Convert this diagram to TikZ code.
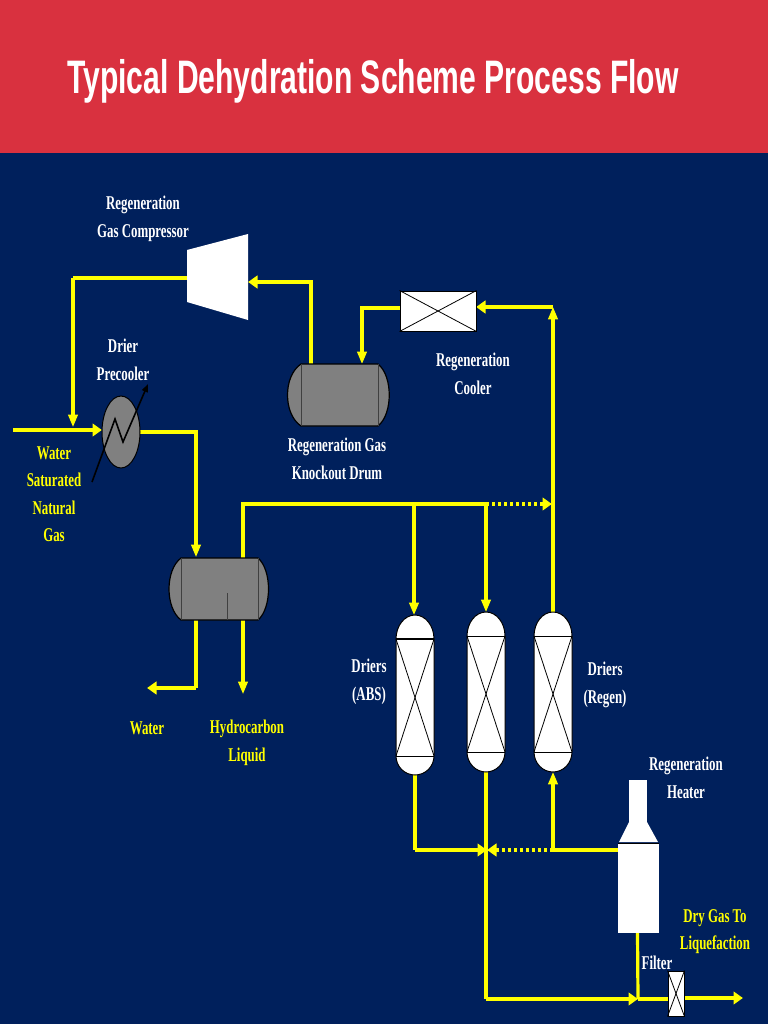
\documentclass[tikz,border=0pt]{standalone}
\usepackage{fontspec}
\usetikzlibrary{arrows.meta,calc,shapes.geometric}
\newfontfamily\labfont[FakeStretch=0.66]{Liberation Serif}
\newfontfamily\titlefont[FakeStretch=0.64]{Liberation Sans}
\definecolor{navy}{HTML}{00205C}
\definecolor{band}{HTML}{D9313F}
\definecolor{pipeyellow}{HTML}{FFFF00}
\definecolor{vessel}{HTML}{808080}
\tikzset{
  pipeline/.style={draw=pipeyellow,line width=3.2pt,line join=miter},
  thickpipe/.style={draw=pipeyellow,line width=3.7pt,line join=miter},
  dotpipe/.style={draw=pipeyellow,line width=3.2pt,dash pattern=on 3pt off 3pt},
  flow/.style={-{Triangle[length=9.5pt,width=9.5pt]}},
  whitelabel/.style={text=white,align=center,inner sep=0pt,font=\labfont\bfseries\fontsize{19.5}{27.5}\selectfont},
  yellowlabel/.style={whitelabel,text=pipeyellow},
  outline/.style={draw=black,line width=1pt},
  grayvessel/.style={outline,fill=vessel,line width=1.2pt},
  whitevessel/.style={outline,fill=white},
  innerline/.style={draw=black!75,line width=1pt},
  crossline/.style={draw=black,line width=0.8pt}
}
\begin{document}
\begin{tikzpicture}[x=1pt,y=-1pt]
\useasboundingbox (0,0) rectangle (768,1024);
\fill[navy] (0,0) rectangle (768,1024);
\fill[band] (0,0) rectangle (768,153);
\node[name=title,text=white,inner sep=0pt,font=\titlefont\bfseries\fontsize{47}{50}\selectfont] at (373,81) {Typical Dehydration Scheme Process Flow};

% connectors: the source is stretched vertically, so they are drawn on a stretched canvas
\begin{scope}[transform canvas={yscale=1.3},y={(0pt,-0.76923pt)}]
\coordinate (compOut) at (187,278);
\coordinate (compIn) at (248,282);
\coordinate (feedStart) at (13,430);
\coordinate (pcIn) at (102,430);
\coordinate (pcOut) at (140,432);
\coordinate (c1) at (73,278);
\coordinate (c1end) at (73,427);
\coordinate (c2) at (196,432);
\coordinate (sepIn) at (196,557);
\coordinate (drumOut) at (311,364);
\coordinate (c3) at (311,282);
\coordinate (coolIn) at (476,307);
\coordinate (coolOut) at (400,308);
\coordinate (c4) at (362,308);
\coordinate (drumIn) at (362,364);
\coordinate (regenTop) at (553,612);
\coordinate (regenUp) at (553,307);
\coordinate (sepTop) at (243,558);
\coordinate (c5) at (243,504);
\coordinate (j1) at (414,504);
\coordinate (j2) at (486,504);
\coordinate (dot1) at (552,504);
\coordinate (d1In) at (414,615);
\coordinate (d2In) at (486,612);
\coordinate (sepBotL) at (196,620);
\coordinate (c6) at (196,688);
\coordinate (waterOut) at (147,688);
\coordinate (sepBotR) at (243,620);
\coordinate (hcOut) at (243,694);
\coordinate (d1Out) at (415,774);
\coordinate (c7) at (415,850);
\coordinate (j3) at (487,850);
\coordinate (d2Out) at (486,772);
\coordinate (c8) at (486,999);
\coordinate (j4) at (638,999);
\coordinate (filtIn) at (668,999);
\coordinate (filtOut) at (684,998);
\coordinate (dryOut) at (743,998);
\coordinate (heatOutB) at (637.5,933);
\coordinate (heatL) at (618,850);
\coordinate (c9) at (553,850);
\coordinate (d3In) at (553,772);

\draw[pipeline] (compOut) -- (c1);
\draw[pipeline,flow] (c1) -- (c1end);
\draw[thickpipe,flow] (feedStart) -- (pcIn);
\draw[pipeline,flow] (pcOut) -- (c2) -- (sepIn);
\draw[pipeline,flow] (drumOut) -- (c3) -- (compIn);
\draw[pipeline,flow] (regenTop) -- (regenUp);
\draw[pipeline,flow] (regenUp) -- (coolIn);
\draw[pipeline,flow] (coolOut) -- (c4) -- (drumIn);
\draw[pipeline] (sepTop) -- (c5) -- (j2);
\draw[pipeline,flow] (j1) -- (d1In);
\draw[pipeline,flow] (j2) -- (d2In);
\draw[dotpipe] (j2) -- ($(dot1)+(-9,0)$);
\draw[pipeline,flow] ($(dot1)+(-9,0)$) -- (dot1);
\draw[pipeline] (sepBotL) -- (c6);
\draw[thickpipe,flow] (c6) -- (waterOut);
\draw[pipeline,flow] (sepBotR) -- (hcOut);
\draw[pipeline] (d1Out) -- (c7);
\draw[thickpipe,flow] (c7) -- (j3);
\draw[pipeline] (d2Out) -- (c8);
\draw[pipeline,flow] (c8) -- (j4);
\draw[pipeline] (heatOutB) -- (j4);
\draw[thickpipe] (j4) -- (filtIn);
\draw[thickpipe,flow] (filtOut) -- (dryOut);
\draw[pipeline] (heatL) -- (c9);
\draw[pipeline,flow] (c9) -- (d3In);
\draw[dotpipe] (c9) -- ($(j3)+(9,0)$);
\draw[pipeline,flow] ($(j3)+(9,0)$) -- (j3);
\end{scope}

% compressor
\fill[white] (187,250) -- (248,234) -- (248,320) -- (187,302) -- cycle;
% precooler
\node[name=precooler,ellipse,draw=black,fill=vessel,line width=1pt,minimum width=38pt,minimum height=72pt,inner sep=0pt] at (121,432) {};
\coordinate (z0) at (92,482);
\coordinate (z1) at (115,419);
\coordinate (z2) at (123,442);
\coordinate (z3) at (148,384);
\draw[black,line width=1.6pt,-{Triangle[length=8pt,width=6pt]}] (z0) -- (z1) -- (z2) -- (z3);

% horizontal drums: body left, body right, top, bottom, left bulge, right bulge
\newcommand{\hdrum}[6]{%
  \draw[grayvessel] (#1,#3) -- (#2,#3) .. controls ($(#2,#3)+(#6,12)$) and ($(#2,#4)+(#6,-12)$) .. (#2,#4) -- (#1,#4) .. controls ($(#1,#4)+(-#5,-12)$) and ($(#1,#3)+(-#5,12)$) .. (#1,#3) -- cycle;
  \draw[innerline] (#1,#3) -- (#1,#4);
  \draw[innerline] (#2,#3) -- (#2,#4);
}
\hdrum{301}{378}{364}{426}{18}{15}
\hdrum{181}{258}{558}{620}{16}{14}
\draw[innerline,line width=0.8pt] (227,593) -- (227,620);

% cooler
\node[name=cooler,draw=black,fill=white,line width=1pt,minimum width=76pt,minimum height=40pt,inner sep=0pt] at (438,311) {};
\draw[crossline] (cooler.north west) -- (cooler.south east);
\draw[crossline] (cooler.south west) -- (cooler.north east);

% driers: left right top bottom line1 line2
\newcommand{\drier}[6]{%
  \draw[whitevessel] (#1,#5) arc[start angle=180,end angle=0,x radius={(#2-#1)/2*1pt},y radius={(#5-#3)*1pt}] -- (#2,#6) arc[start angle=0,end angle=-180,x radius={(#2-#1)/2*1pt},y radius={(#4-#6)*1pt}] -- cycle;
  \draw[crossline] (#1,#5) -- (#2,#5);
  \draw[crossline] (#1,#6) -- (#2,#6);
  \draw[crossline] (#1,#5) -- (#2,#6);
  \draw[crossline] (#2,#5) -- (#1,#6);
}
\drier{396}{434}{615}{775}{639}{756}
\draw[black,line width=1.8pt] (396,639) -- (434,639);
\drier{467}{505}{612}{772}{636}{752}
\drier{534}{572}{612}{772}{636}{752}

% heater
\fill[white] (629,780) rectangle (647,822);
\fill[white] (629,822) -- (647,822) -- (658,842) -- (619,842) -- cycle;
\node[name=heater,fill=white,draw=none,minimum width=41pt,minimum height=90pt,inner sep=0pt] at (638.5,888) {};
\draw[black,line width=0.6pt] (618,843) -- (659,843);

% filter
\node[name=filter,draw=black,fill=white,line width=1pt,minimum width=16pt,minimum height=45pt,inner sep=0pt] at (676,993.5) {};
\draw[crossline] (filter.north west) -- (filter.south east);
\draw[crossline] (filter.south west) -- (filter.north east);

% labels
\node[name=lComp,whitelabel] at (143,219) {Regeneration\\Gas Compressor};
\node[name=lPre,whitelabel] at (123,360) {Drier\\Precooler};
\node[name=lCool,whitelabel] at (473,374) {Regeneration\\Cooler};
\node[name=lDrum,whitelabel] at (337,459) {Regeneration Gas\\Knockout Drum};
\node[name=lFeed,yellowlabel] at (54,494) {Water\\Saturated\\Natural\\Gas};
\node[name=lWater,yellowlabel] at (147,728) {Water};
\node[name=lHC,yellowlabel] at (247,743) {Hydrocarbon\\Liquid};
\node[name=lAbs,whitelabel] at (369,682) {Driers\\(ABS)};
\node[name=lReg,whitelabel] at (605,685) {Driers\\(Regen)};
\node[name=lHeat,whitelabel] at (686,778) {Regeneration\\Heater};
\node[name=lDry,yellowlabel] at (715,931.5) {Dry Gas To\\Liquefaction};
\node[name=lFilter,whitelabel] at (657,963) {Filter};
\end{tikzpicture}
\end{document}
